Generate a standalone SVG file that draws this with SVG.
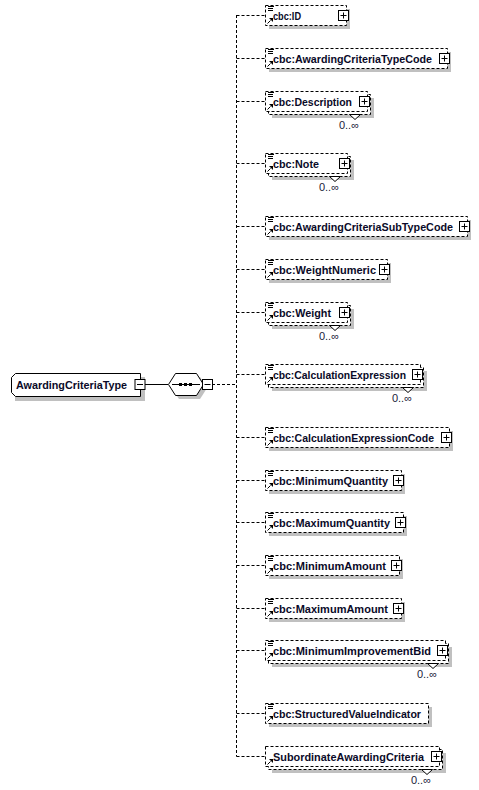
<svg xmlns="http://www.w3.org/2000/svg" width="479" height="790" viewBox="0 0 479 790">
<style>
.bg{fill:#fff}
.sh{fill:#c0c0c0}
.el{fill:#fff;stroke:#000;stroke-width:1;stroke-dasharray:3,2}
.sol{fill:#fff;stroke:#000;stroke-width:1}
.con{fill:none;stroke:#000;stroke-width:1;stroke-dasharray:3,2}
.line{fill:none;stroke:#000;stroke-width:1}
.t{font-family:"Liberation Sans",Arial,sans-serif;font-size:11.5px;font-weight:bold;fill:#0a0a28}
.occ{font-family:"Liberation Sans",Arial,sans-serif;font-size:11px;fill:#1a1a3a;text-anchor:end}
.ic{stroke:#000;stroke-width:1;fill:none}
</style>
<defs>
<g id="lines"><path class="ic" d="M268,0.5h6M268,2.5h5M268,4.5h5"/></g>
<g id="arrow"><path class="ic" d="M267.5,5.5l3,-3"/><path d="M269,0h4v4z" fill="#000"/></g>
<g id="plus"><rect class="sol" x="0.5" y="0.5" width="10" height="10"/><path class="line" d="M2.5,5.5h6M5.5,2.5v6"/></g>
<g id="minus"><rect class="sol" x="0.5" y="0.5" width="10" height="10"/><path class="line" d="M2.5,5.5h6"/></g>
</defs>
<rect width="479" height="790" class="bg"/>

<g id="connectors">
<path class="line" d="M144,384.5H168"/>
<path class="con" d="M212,384.5H236.5"/>
<path class="con" d="M236.5,15V756.5"/>
<path class="con" d="M236.5,15.5H265M236.5,58.5H265M236.5,101.5H265M236.5,163.5H265M236.5,226.5H265M236.5,269.5H265M236.5,312.5H265M236.5,374.5H265M236.5,437.5H265M236.5,480.5H265M236.5,522.5H265M236.5,565.5H265M236.5,608.5H265M236.5,650.5H265M236.5,713.5H265M236.5,756.5H265"/>
</g>

<g id="root">
<rect class="sh" x="15" y="377" width="130" height="24"/>
<path class="sol" d="M15.5,373.5H140.5V396.5H15.5L11.5,392.5V377.5Z"/>
<text class="t" x="16" y="389" textLength="111" lengthAdjust="spacingAndGlyphs">AwardingCriteriaType</text>
<use href="#minus" x="134.5" y="379"/>
</g>

<g id="sequence">
<path class="sh" d="M179,377H200Q204,383 207,388Q204,393 200,399H179Q175,393 172,388Q175,383 179,377Z"/>
<path class="sol" d="M175.5,373.5H196.5Q200,379 203.5,384.5Q200,390 196.5,395.5H175.5Q172,390 168.5,384.5Q172,379 175.5,373.5Z"/>
<path class="line" d="M172,384.5H200"/>
<rect x="179" y="383" width="3" height="3" fill="#000"/>
<rect x="184" y="383" width="3" height="3" fill="#000"/>
<rect x="189" y="383" width="3" height="3" fill="#000"/>
<use href="#minus" x="202" y="379"/>
</g>

<g id="n1">
<rect class="sh" x="269" y="9" width="81" height="20"/>
<rect class="el" x="265.5" y="5.5" width="81" height="20"/>
<use href="#lines" y="6"/><use href="#arrow" y="18"/>
<text class="t" x="273" y="19.5" textLength="28" lengthAdjust="spacingAndGlyphs">cbc:ID</text>
<use href="#plus" x="338" y="10"/>
</g>

<g id="n2">
<rect class="sh" x="269" y="52" width="182" height="20"/>
<rect class="el" x="265.5" y="48.5" width="182" height="20"/>
<use href="#lines" y="49"/><use href="#arrow" y="61"/>
<text class="t" x="273" y="62.5" textLength="159" lengthAdjust="spacingAndGlyphs">cbc:AwardingCriteriaTypeCode</text>
<use href="#plus" x="439" y="53"/>
</g>

<g id="n3">
<rect class="sh" x="272" y="98" width="102" height="20"/>
<rect class="el" x="268.5" y="94.5" width="102" height="20"/>
<rect class="el" x="265.5" y="91.5" width="102" height="20"/>
<use href="#lines" y="92"/><use href="#arrow" y="104"/>
<text class="t" x="273" y="105.5" textLength="79" lengthAdjust="spacingAndGlyphs">cbc:Description</text>
<use href="#plus" x="359" y="96"/>
<path class="sol" d="M349.5,114.5H360.5L355,119.5Z"/>
<text class="occ" x="359" y="129">0..∞</text>
</g>

<g id="n4">
<rect class="sh" x="272" y="160" width="82" height="20"/>
<rect class="el" x="268.5" y="156.5" width="82" height="20"/>
<rect class="el" x="265.5" y="153.5" width="82" height="20"/>
<use href="#lines" y="154"/><use href="#arrow" y="166"/>
<text class="t" x="273" y="167.5" textLength="46" lengthAdjust="spacingAndGlyphs">cbc:Note</text>
<use href="#plus" x="339" y="158"/>
<path class="sol" d="M329.5,176.5H340.5L335,181.5Z"/>
<text class="occ" x="339" y="191">0..∞</text>
</g>

<g id="n5">
<rect class="sh" x="269" y="220" width="202" height="20"/>
<rect class="el" x="265.5" y="216.5" width="202" height="20"/>
<use href="#lines" y="217"/><use href="#arrow" y="229"/>
<text class="t" x="273" y="230.5" textLength="180" lengthAdjust="spacingAndGlyphs">cbc:AwardingCriteriaSubTypeCode</text>
<use href="#plus" x="459" y="221"/>
</g>

<g id="n6">
<rect class="sh" x="269" y="263" width="122" height="20"/>
<rect class="el" x="265.5" y="259.5" width="122" height="20"/>
<use href="#lines" y="260"/><use href="#arrow" y="272"/>
<text class="t" x="273" y="273.5" textLength="103" lengthAdjust="spacingAndGlyphs">cbc:WeightNumeric</text>
<use href="#plus" x="379" y="264"/>
</g>

<g id="n7">
<rect class="sh" x="272" y="309" width="82" height="20"/>
<rect class="el" x="268.5" y="305.5" width="82" height="20"/>
<rect class="el" x="265.5" y="302.5" width="82" height="20"/>
<use href="#lines" y="303"/><use href="#arrow" y="315"/>
<text class="t" x="273" y="316.5" textLength="58" lengthAdjust="spacingAndGlyphs">cbc:Weight</text>
<use href="#plus" x="339" y="307"/>
<path class="sol" d="M329.5,325.5H340.5L335,330.5Z"/>
<text class="occ" x="339" y="340">0..∞</text>
</g>

<g id="n8">
<rect class="sh" x="272" y="371" width="155" height="20"/>
<rect class="el" x="268.5" y="367.5" width="155" height="20"/>
<rect class="el" x="265.5" y="364.5" width="155" height="20"/>
<use href="#lines" y="365"/><use href="#arrow" y="377"/>
<text class="t" x="273" y="378.5" textLength="133" lengthAdjust="spacingAndGlyphs">cbc:CalculationExpression</text>
<use href="#plus" x="412" y="369"/>
<path class="sol" d="M402.5,387.5H413.5L408,392.5Z"/>
<text class="occ" x="412" y="402">0..∞</text>
</g>

<g id="n9">
<rect class="sh" x="269" y="431" width="184" height="20"/>
<rect class="el" x="265.5" y="427.5" width="184" height="20"/>
<use href="#lines" y="428"/><use href="#arrow" y="440"/>
<text class="t" x="273" y="441.5" textLength="161" lengthAdjust="spacingAndGlyphs">cbc:CalculationExpressionCode</text>
<use href="#plus" x="441" y="432"/>
</g>

<g id="n10">
<rect class="sh" x="269" y="474" width="136" height="20"/>
<rect class="el" x="265.5" y="470.5" width="136" height="20"/>
<use href="#lines" y="471"/><use href="#arrow" y="483"/>
<text class="t" x="273" y="484.5" textLength="115" lengthAdjust="spacingAndGlyphs">cbc:MinimumQuantity</text>
<use href="#plus" x="393" y="475"/>
</g>

<g id="n11">
<rect class="sh" x="269" y="516" width="138" height="20"/>
<rect class="el" x="265.5" y="512.5" width="138" height="20"/>
<use href="#lines" y="513"/><use href="#arrow" y="525"/>
<text class="t" x="273" y="526.5" textLength="117" lengthAdjust="spacingAndGlyphs">cbc:MaximumQuantity</text>
<use href="#plus" x="395" y="517"/>
</g>

<g id="n12">
<rect class="sh" x="269" y="559" width="134" height="20"/>
<rect class="el" x="265.5" y="555.5" width="134" height="20"/>
<use href="#lines" y="556"/><use href="#arrow" y="568"/>
<text class="t" x="273" y="569.5" textLength="113" lengthAdjust="spacingAndGlyphs">cbc:MinimumAmount</text>
<use href="#plus" x="391" y="560"/>
</g>

<g id="n13">
<rect class="sh" x="269" y="602" width="136" height="20"/>
<rect class="el" x="265.5" y="598.5" width="136" height="20"/>
<use href="#lines" y="599"/><use href="#arrow" y="611"/>
<text class="t" x="273" y="612.5" textLength="115" lengthAdjust="spacingAndGlyphs">cbc:MaximumAmount</text>
<use href="#plus" x="393" y="603"/>
</g>

<g id="n14">
<rect class="sh" x="272" y="647" width="180" height="20"/>
<rect class="el" x="268.5" y="643.5" width="180" height="20"/>
<rect class="el" x="265.5" y="640.5" width="180" height="20"/>
<use href="#lines" y="641"/><use href="#arrow" y="653"/>
<text class="t" x="273" y="654.5" textLength="158" lengthAdjust="spacingAndGlyphs">cbc:MinimumImprovementBid</text>
<use href="#plus" x="437" y="645"/>
<path class="sol" d="M427.5,663.5H438.5L433,668.5Z"/>
<text class="occ" x="437" y="678">0..∞</text>
</g>

<g id="n15">
<rect class="sh" x="269" y="707" width="163" height="20"/>
<rect class="el" x="265.5" y="703.5" width="163" height="20"/>
<use href="#lines" y="704"/><use href="#arrow" y="716"/>
<text class="t" x="273" y="717.5" textLength="148" lengthAdjust="spacingAndGlyphs">cbc:StructuredValueIndicator</text>
</g>

<g id="n16">
<rect class="sh" x="272" y="753" width="174" height="20"/>
<rect class="el" x="268.5" y="749.5" width="174" height="20"/>
<rect class="el" x="265.5" y="746.5" width="174" height="20"/>
<use href="#arrow" y="759"/>
<text class="t" x="273" y="760.5" textLength="151" lengthAdjust="spacingAndGlyphs">SubordinateAwardingCriteria</text>
<use href="#plus" x="431" y="751"/>
<path class="sol" d="M421.5,769.5H432.5L427,774.5Z"/>
<text class="occ" x="431" y="784">0..∞</text>
</g>
</svg>
